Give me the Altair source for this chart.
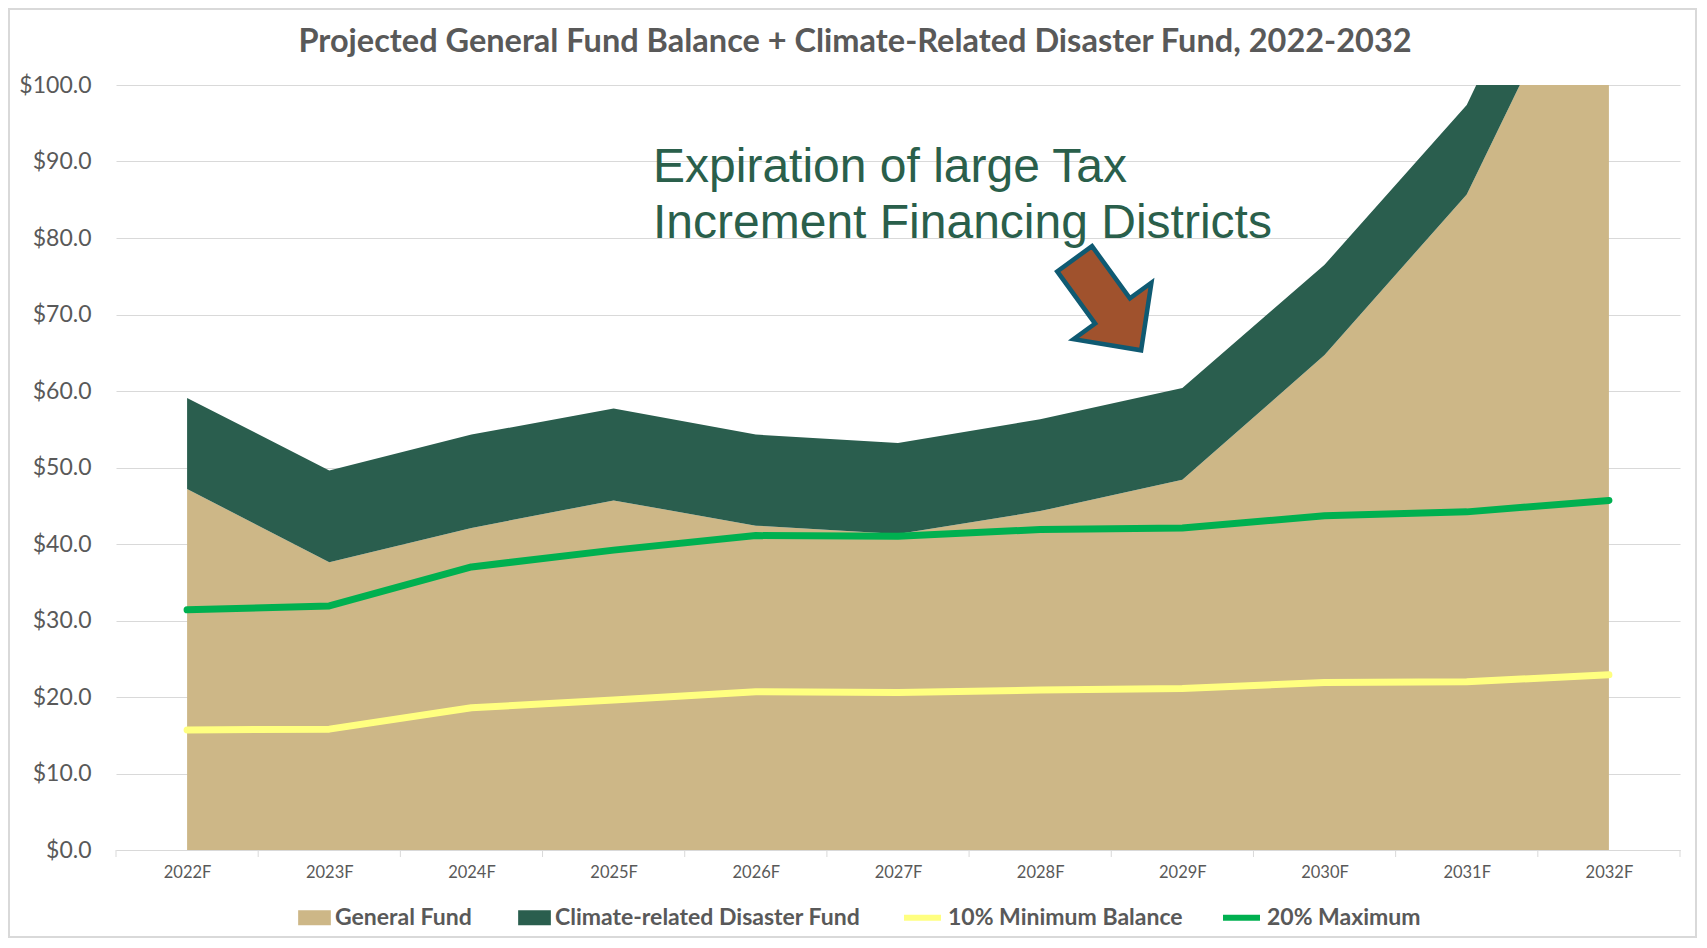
import altair as alt
import pandas as pd

# ---- data ----
categories = ["2022F", "2023F", "2024F", "2025F", "2026F", "2027F",
              "2028F", "2029F", "2030F", "2031F", "2032F"]
general_fund = [47.2, 37.6, 42.1, 45.7, 42.4, 41.3, 44.3, 48.4, 64.7, 85.7, 124.0]
disaster_fund = [11.9, 12.0, 12.2, 12.0, 11.9, 11.9, 12.0, 12.0, 11.8, 11.7, 12.0]
min_balance_10 = [15.7, 15.8, 18.6, 19.6, 20.7, 20.6, 20.9, 21.1, 21.9, 22.0, 22.9]
max_balance_20 = [31.4, 31.9, 37.0, 39.2, 41.1, 41.0, 41.9, 42.1, 43.7, 44.2, 45.7]
y_ticks = [0, 10, 20, 30, 40, 50, 60, 70, 80, 90, 100]

AREA_NAMES = ["General Fund", "Climate-related Disaster Fund"]
LINE_NAMES = ["10% Minimum Balance", "20% Maximum"]
TITLE = "Projected General Fund Balance + Climate-Related Disaster Fund, 2022-2032"
NOTE = ["Expiration of large Tax", "Increment Financing Districts"]

TAN = "#CDB787"
DARK_GREEN = "#2A5E4E"
YELLOW = "#FFFF80"
GREEN = "#00B050"
GREY_TXT = "#595959"
GRID = "#D9D9D9"

W, H = 1564, 765
FONT = "Lato"
LEG_SIZE = 23

idx = list(range(len(categories)))

area_rows = []
for i in idx:
    area_rows.append({"i": i, "series": AREA_NAMES[0], "value": general_fund[i], "ord": 0})
    area_rows.append({"i": i, "series": AREA_NAMES[1], "value": disaster_fund[i], "ord": 1})
area_df = pd.DataFrame(area_rows)

line_rows = []
for i in idx:
    line_rows.append({"i": i, "series": LINE_NAMES[0], "value": min_balance_10[i]})
    line_rows.append({"i": i, "series": LINE_NAMES[1], "value": max_balance_20[i]})
line_df = pd.DataFrame(line_rows)

bounds_df = pd.DataFrame({"b": [k - 0.5 for k in range(len(categories) + 1)]})

label_expr = "[" + ",".join("'%s'" % c for c in categories) + "][datum.value]"

x_scale = alt.Scale(domain=[-0.5, len(categories) - 0.5], nice=False, zero=False)
y_scale = alt.Scale(domain=[0, 100], nice=False)

x_axis = alt.Axis(values=idx, labelExpr=label_expr, title=None, grid=False,
                  ticks=False, domainColor=GRID, domainWidth=1,
                  labelFont=FONT, labelFontSize=16.5, labelColor=GREY_TXT,
                  labelPadding=14)
y_axis = alt.Axis(values=y_ticks, format="$.1f", title=None, domain=False,
                  ticks=False, gridColor=GRID, gridWidth=1,
                  labelFont=FONT, labelFontSize=23, labelColor=GREY_TXT,
                  labelPadding=25)

rect_sym = "M -1 -0.46 L 1 -0.46 L 1 0.46 L -1 0.46 Z"

areas = alt.Chart(area_df).mark_area(clip=True, opacity=1).encode(
    x=alt.X("i:Q", scale=x_scale, axis=x_axis),
    y=alt.Y("value:Q", stack="zero", scale=y_scale, axis=y_axis),
    fill=alt.Fill("series:N",
                  scale=alt.Scale(domain=AREA_NAMES, range=[TAN, DARK_GREEN]),
                  legend=alt.Legend(title=None, orient="none", direction="horizontal",
                                    legendX=182, legendY=816,
                                    symbolType=rect_sym, symbolSize=1070,
                                    symbolStrokeWidth=0, symbolOpacity=1,
                                    labelFont=FONT, labelFontSize=LEG_SIZE,
                                    labelFontWeight="bold", labelColor=GREY_TXT,
                                    labelLimit=0, labelOffset=4, columnPadding=46)),
    order=alt.Order("ord:Q"),
)

lines = alt.Chart(line_df).mark_line(strokeWidth=7, strokeCap="round",
                                     strokeJoin="round").encode(
    x=alt.X("i:Q", scale=x_scale),
    y=alt.Y("value:Q", scale=y_scale),
    stroke=alt.Stroke("series:N",
                      scale=alt.Scale(domain=LINE_NAMES, range=[YELLOW, GREEN]),
                      legend=alt.Legend(title=None, orient="none", direction="horizontal",
                                        legendX=785, legendY=811,
                                        symbolType="stroke", symbolSize=1369,
                                        symbolStrokeWidth=6,
                                        labelFont=FONT, labelFontSize=LEG_SIZE,
                                        labelFontWeight="bold", labelColor=GREY_TXT,
                                        labelLimit=0, labelOffset=4, columnPadding=28)),
    detail="series:N",
)

ticks = alt.Chart(bounds_df).mark_rule(color=GRID, strokeWidth=1).encode(
    x=alt.X("b:Q", scale=x_scale),
    y=alt.value(H),
    y2=alt.value(H + 7),
)

# annotation text and arrow (anchored in data units)
note_df = pd.DataFrame({"x": [3.277], "y": [87.3], "t": ["\n".join(NOTE)]})
note = alt.Chart(note_df).mark_text(
    align="left", baseline="alphabetic", font="Liberation Sans", fontSize=48,
    color="#2A5F4B", lineBreak="\n", lineHeight=56,
).encode(x=alt.X("x:Q", scale=x_scale), y=alt.Y("y:Q", scale=y_scale), text="t:N")

arrow_path = ("M -1 -0.38 L 0.14 -0.38 L 0.14 -0.85 L 1 0 "
              "L 0.14 0.85 L 0.14 0.38 L -1 0.38 Z")
arrow_df = pd.DataFrame({"x": [6.476], "y": [71.3]})
arrow = alt.Chart(arrow_df).mark_point(
    shape=arrow_path, size=12800, angle=54, filled=True, fill="#A0522D",
    stroke="#0F5A72", strokeWidth=4.5, opacity=1, strokeJoin="miter",
).encode(x=alt.X("x:Q", scale=x_scale), y=alt.Y("y:Q", scale=y_scale))

frame = alt.Chart(bounds_df).mark_rect(fill=None, stroke=GRID, strokeWidth=1.5).encode(
    x=alt.value(-107), x2=alt.value(W + 16), y=alt.value(-76), y2=alt.value(H + 87),
)

chart = alt.layer(frame, areas, ticks, lines, note, arrow).resolve_scale(
    fill="independent", stroke="independent"
).properties(
    width=W, height=H,
    title=alt.TitleParams(TITLE, font=FONT, fontSize=32.5, fontWeight="bold",
                          color=GREY_TXT, anchor="middle", dx=-43, offset=-76,
                          baseline="alphabetic"),
    autosize=alt.AutoSizeParams(type="none"),
    padding={"left": 108, "top": 77, "right": 17, "bottom": 88},
).configure_view(stroke=None)

chart.save("out.html", embed_options={"renderer": "svg", "actions": False})
